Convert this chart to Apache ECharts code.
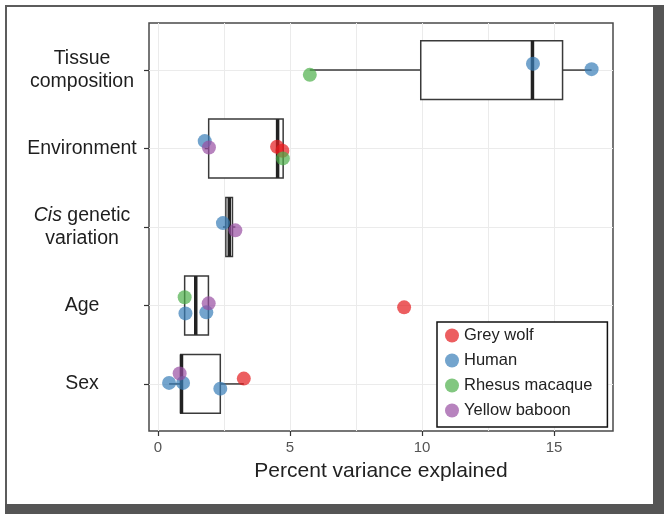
<!DOCTYPE html>
<html>
<head>
<meta charset="utf-8">
<script src="https://cdn.jsdelivr.net/npm/echarts@6/dist/echarts.min.js"></script>
<style>
html,body{margin:0;padding:0;background:#fff;}
#chart{width:671px;height:521px;}
</style>
</head>
<body>
<div id="chart"></div>
<script>
// ---- data ----
var categories = ['Sex', 'Age', 'Cis genetic variation', 'Environment', 'Tissue composition']; // positions 1..5
var xTicks = [0, 5, 10, 15];
var xGrid = [0, 2.5, 5, 7.5, 10, 12.5, 15];

// box statistics per category (Sex .. Tissue composition)
var boxLow  = [0.42, 1.01, 2.46, 1.77, 5.75];
var boxQ1   = [0.86, 1.01, 2.57, 1.92, 9.95];
var boxMed  = [0.89, 1.43, 2.70, 4.53, 14.18];
var boxQ3   = [2.36, 1.91, 2.82, 4.74, 15.32];
var boxHigh = [3.25, 1.92, 2.93, 4.74, 16.42];

// jittered points: x = percent variance, y = category position incl. jitter
var wolfX    = [4.51, 4.71, 9.32, 3.25];
var wolfY    = [4.022, 3.971, 1.976, 1.068];
var humanX   = [14.20, 16.42, 1.77, 2.46, 1.04, 1.83, 0.42, 0.95, 2.36];
var humanY   = [5.080, 5.012, 4.095, 3.050, 1.899, 1.912, 1.013, 1.013, 0.940];
var macaqueX = [5.75, 4.73, 1.01];
var macaqueY = [4.939, 3.874, 2.104];
var baboonX  = [1.93, 2.93, 1.92, 0.82];
var baboonY  = [4.014, 2.957, 2.027, 1.132];

var speciesNames = ['Grey wolf', 'Human', 'Rhesus macaque', 'Yellow baboon'];
var speciesColors = ['#E41A1C', '#377EB8', '#4DAF4A', '#984EA3'];

// ---- build ----
var FONT = '"Liberation Sans", Arial, sans-serif';
function zip(xs, ys) { return xs.map(function (x, i) { return [x, ys[i]]; }); }
var pointSets = [zip(wolfX, wolfY), zip(humanX, humanY), zip(macaqueX, macaqueY), zip(baboonX, baboonY)];

var boxData = categories.map(function (c, i) {
  return [i + 1, boxLow[i], boxQ1[i], boxMed[i], boxQ3[i], boxHigh[i]];
});

var HALF = 0.375;
function renderBox(params, api) {
  var k = api.value(0);
  var low = api.value(1), q1 = api.value(2), med = api.value(3), q3 = api.value(4), high = api.value(5);
  var a = api.coord([q1, k + HALF]);
  var b = api.coord([q3, k - HALF]);
  var cLow = api.coord([low, k]), cQ1 = api.coord([q1, k]);
  var cQ3 = api.coord([q3, k]), cHigh = api.coord([high, k]);
  var mTop = api.coord([med, k + HALF]), mBot = api.coord([med, k - HALF]);
  var stroke = '#3a3a3a';
  return {
    type: 'group',
    children: [
      { type: 'line', shape: { x1: cLow[0], y1: cLow[1], x2: cQ1[0], y2: cQ1[1] }, style: { stroke: stroke, lineWidth: 1.5 } },
      { type: 'line', shape: { x1: cQ3[0], y1: cQ3[1], x2: cHigh[0], y2: cHigh[1] }, style: { stroke: stroke, lineWidth: 1.5 } },
      { type: 'rect', shape: { x: a[0], y: a[1], width: b[0] - a[0], height: b[1] - a[1] }, style: { fill: '#fff', stroke: stroke, lineWidth: 1.5 } },
      { type: 'line', shape: { x1: mTop[0], y1: mTop[1], x2: mBot[0], y2: mBot[1] }, style: { stroke: '#222', lineWidth: 3.5 } }
    ]
  };
}

var series = [{
  type: 'custom',
  name: 'box',
  renderItem: renderBox,
  data: boxData,
  encode: { x: [1, 2, 3, 4, 5], y: 0 },
  z: 2,
  silent: true
}];
speciesNames.forEach(function (n, i) {
  series.push({
    type: 'scatter',
    name: n,
    data: pointSets[i],
    symbol: 'circle',
    symbolSize: 14,
    itemStyle: { color: speciesColors[i], opacity: 0.7 },
    z: 5
  });
});

var XMIN = -0.34, XMAX = 17.23, YMIN = 0.4, YMAX = 5.6;

var option = {
  backgroundColor: '#fff',
  animation: false,
  textStyle: { fontFamily: FONT },
  grid: { left: 149, top: 23, width: 464, height: 408, show: true, borderColor: '#4a4a4a', borderWidth: 1.5, backgroundColor: 'transparent' },
  xAxis: [{
    type: 'value', min: XMIN, max: XMAX, position: 'bottom',
    axisLine: { show: false, onZero: false },
    axisTick: { show: true, customValues: xTicks, length: 5, lineStyle: { color: '#333', width: 1.2 } },
    axisLabel: { customValues: xTicks, margin: 9, fontSize: 15, color: '#555', fontFamily: FONT },
    splitLine: { show: false },
    name: 'Percent variance explained', nameLocation: 'middle', nameGap: 30,
    nameTextStyle: { fontSize: 21, color: '#222', fontFamily: FONT }
  }, {
    type: 'value', min: XMIN, max: XMAX, position: 'top',
    axisLine: { show: false, onZero: false },
    axisTick: { show: false, customValues: xGrid },
    axisLabel: { show: false },
    splitLine: { show: true, lineStyle: { color: '#ebebeb', width: 1 } }
  }],
  yAxis: [{
    type: 'value', min: YMIN, max: YMAX, position: 'left',
    axisLine: { show: false, onZero: false },
    axisTick: { show: true, customValues: [1, 2, 3, 4, 5], length: 5, lineStyle: { color: '#333', width: 1.2 } },
    axisLabel: {
      customValues: [1, 2, 3, 4, 5], margin: 67, align: 'center',
      fontSize: 19.5, lineHeight: 23, color: '#1e1e1e', fontFamily: FONT,
      formatter: function (v) {
        var name = categories[Math.round(v) - 1];
        if (name === 'Tissue composition') return 'Tissue\ncomposition';
        if (name === 'Cis genetic variation') return '{i|Cis} genetic\nvariation';
        return name;
      },
      rich: { i: { fontStyle: 'italic', fontSize: 19.5, lineHeight: 23, color: '#1e1e1e', fontFamily: FONT } }
    },
    splitLine: { show: true, lineStyle: { color: '#ebebeb', width: 1 } }
  }],
  legend: {
    data: speciesNames,
    orient: 'vertical',
    left: 437, top: 322,
    padding: [5, 15, 8, 8],
    itemGap: 8,
    itemWidth: 14, itemHeight: 14,
    icon: 'circle',
    borderColor: '#111', borderWidth: 1.5,
    backgroundColor: '#fff',
    textStyle: { fontSize: 16.5, lineHeight: 16, color: '#222', fontFamily: FONT }
  },
  graphic: [
    { type: 'rect', shape: { x: 5, y: 5, width: 2, height: 509 }, style: { fill: '#5c5c5c' }, silent: true },
    { type: 'rect', shape: { x: 5, y: 5, width: 659, height: 2 }, style: { fill: '#5c5c5c' }, silent: true },
    { type: 'rect', shape: { x: 653, y: 5, width: 11, height: 509 }, style: { fill: '#555' }, silent: true },
    { type: 'rect', shape: { x: 5, y: 504, width: 659, height: 10 }, style: { fill: '#555' }, silent: true }
  ],
  series: series
};

var chart = echarts.init(document.getElementById('chart'), null, { renderer: 'canvas' });
chart.setOption(option);
</script>
</body>
</html>
